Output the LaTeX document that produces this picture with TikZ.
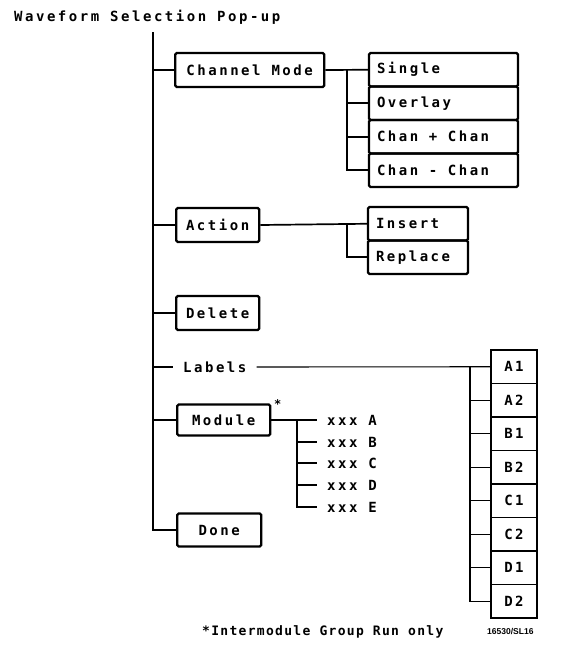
\documentclass[tikz,border=0pt]{standalone}
\usepackage{fontspec}
\newfontfamily\plotfont{DejaVu Sans Mono Bold}[LetterSpace=18]
\newfontfamily\notefont{DejaVu Sans Mono Bold}[LetterSpace=10]
\newfontfamily\tagfont{Liberation Sans Bold}
\usetikzlibrary{positioning}
\newcommand{\chgap}{\hspace*{10.6pt}}

\begin{document}
\begin{tikzpicture}[
    x=1pt, y=-1pt,
    font=\fontsize{14}{16}\plotfont,
    menu/.style = {rectangle, draw, line width=2.3pt, rounded corners=1.5pt, minimum height=34pt, inner xsep=7pt, anchor=west},
    item/.style = {rectangle, draw, line width=2.3pt, rounded corners=1.5pt, outer sep=0pt, minimum height=33.5pt, text width=#1, inner xsep=8pt, align=left},
    item/.default = 133pt,
    lbl/.style = {rectangle, draw, line width=1.6pt, outer sep=0pt, minimum height=33.5pt, minimum width=46pt, inner sep=0pt},
    plain/.style = {inner xsep=10pt, inner ysep=2pt},
    link/.style = {draw, line width=1.7pt},
    thin link/.style = {draw, line width=1.1pt}
]
    \useasboundingbox (0,0) rectangle (568,654);

    % title and trunk
    \node [anchor=west, inner sep=0pt] (title) at (14,17) {Waveform Selection Pop-up};
    \coordinate (top) at (153,32);

    % first level
    \node [menu, minimum width=149pt] (chmode) at (174,70) {Channel Mode};
    \node [menu, minimum width=83pt] (action) at (175,225) {Action};
    \node [menu, minimum width=83pt] (delete) at (175,313) {Delete};
    \node [plain, anchor=west] (labels) at (173,367) {Labels};
    \node [menu, minimum width=93pt, minimum height=31pt] (module) at (176,420) {Module};
    \node [anchor=south west, inner sep=0pt, font=\fontsize{12}{12}\plotfont] (star) at (274,409) {*};
    \node [menu, minimum width=84pt, minimum height=33pt] (done) at (176,530) {Done};

    % channel mode choices
    \node [item, anchor=north west] (single) at (369,53) {Single};
    \node [item, below=0pt of single] (overlay) {Overlay};
    \node [item, below=0pt of overlay] (chplus) {Chan\chgap+\chgap Chan};
    \node [item, below=0pt of chplus] (chminus) {Chan\chgap-\chgap Chan};

    % action choices
    \node [item=84pt, anchor=north west] (insert) at (368,207) {Insert};
    \node [item=84pt, below=0pt of insert] (replace) {Replace};

    % module choices
    \node [plain, anchor=west] (modA) at (317,420) {xxx A};
    \node [plain, anchor=west] (modB) at (317,442) {xxx B};
    \node [plain, anchor=west] (modC) at (317,463) {xxx C};
    \node [plain, anchor=west] (modD) at (317,485) {xxx D};
    \node [plain, anchor=west] (modE) at (317,507) {xxx E};

    % label choices
    \node [lbl, anchor=north west] (A1) at (491,350) {A1};
    \node [lbl, below=0pt of A1] (A2) {A2};
    \node [lbl, below=0pt of A2] (B1) {B1};
    \node [lbl, below=0pt of B1] (B2) {B2};
    \node [lbl, below=0pt of B2] (C1) {C1};
    \node [lbl, below=0pt of C1] (C2) {C2};
    \node [lbl, below=0pt of C2] (D1) {D1};
    \node [lbl, below=0pt of D1] (D2) {D2};

    % notes
    \node [anchor=west, inner sep=0pt, font=\fontsize{13}{15}\notefont] (note) at (202,632) {*Intermodule Group Run only};
    \node [anchor=west, inner sep=0pt, font=\fontsize{8.5}{9}\tagfont] (fig) at (487,631) {16530/SL16};

    % bus points
    \coordinate (cmbus) at (347,70);
    \coordinate (acbus) at (347,225);
    \coordinate (lbbus) at (470,367);
    \coordinate (mdbus) at (297,420);

    % trunk
    \draw [link, line width=2.2pt] (top) |- (done.west);
    \draw [link] (top |- chmode.west) -- (chmode.west);
    \draw [link] (top |- action.west) -- (action.west);
    \draw [link] (top |- delete.west) -- (delete.west);
    \draw [link] (top |- labels.west) -- (labels.west);
    \draw [link] (top |- module.west) -- (module.west);

    % channel mode
    \draw [link] (chmode.east) -- (single.west);
    \draw [link] (cmbus) |- (chminus.west);
    \draw [link] (cmbus |- overlay.west) -- (overlay.west);
    \draw [link] (cmbus |- chplus.west) -- (chplus.west);

    % action
    \draw [link] (action.east) -- (insert.west);
    \draw [link] (acbus) |- (replace.west);

    % labels
    \draw [thin link] (labels.east) -- (A1.west);
    \draw [thin link] (lbbus) |- (D2.west);
    \foreach \n in {A2,B1,B2,C1,C2,D1}
        \draw [thin link] (lbbus |- \n.west) -- (\n.west);

    % module
    \draw [link] (module.east) -- (modA.west);
    \draw [link] (mdbus) |- (modE.west);
    \foreach \n in {modB,modC,modD}
        \draw [link] (mdbus |- \n.west) -- (\n.west);
\end{tikzpicture}
\end{document}
